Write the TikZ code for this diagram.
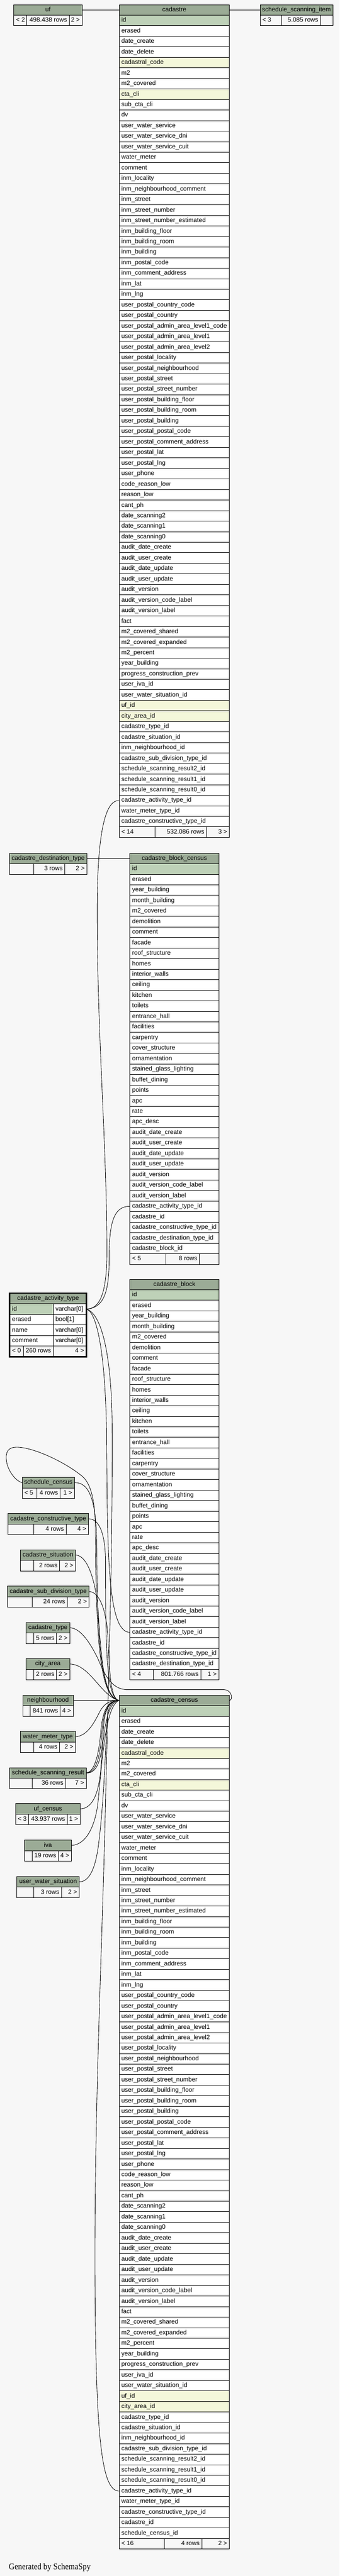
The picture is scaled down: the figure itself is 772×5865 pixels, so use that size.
\documentclass[tikz,border=0pt]{standalone}
\usepackage{fontspec}
\setmainfont{Liberation Sans}
\newfontfamily\creditfont[FakeStretch=0.9]{Liberation Serif}

\definecolor{pagebg}{HTML}{F7F7F7}
\definecolor{headgreen}{HTML}{9BAB96}
\definecolor{keygreen}{HTML}{BED1B8}
\definecolor{idxyellow}{HTML}{F4F7DA}

\tikzstyle{tblcell}=[draw, line width=1pt, fill=white, anchor=north west, minimum height=24pt, inner xsep=5pt, inner ysep=0pt, text height=10.5pt, text depth=3pt, font=\fontsize{14.2}{16}\selectfont]
\tikzstyle{tblhead}=[tblcell, fill=headgreen]
\tikzstyle{tblfoot}=[tblcell, fill=pagebg]
\tikzstyle{fk}=[line width=1pt]
\tikzstyle{focus}=[line width=3pt]

\newcommand{\setrowfill}[2]{%
  \gdef\rowfill{white}%
  \ifnum#1=1 \gdef\rowfill{keygreen}\fi
  \foreach \k in #2 {\ifnum\k=#1 \gdef\rowfill{idxyellow}\fi}}

\newcommand{\dbhead}[5]{%
  \pgfmathsetmacro\hw{#4-10}%
  \node[tblhead] (#1) at (#2,#3) {\makebox[\hw pt][c]{#5}};}

\newcommand{\dbtable}[6]{%
  \dbhead{#1}{#2}{#3}{#4}{#5}%
  \pgfmathsetmacro\tw{#4-10}%
  \foreach \c [count=\i] in #6 {%
    \setrowfill{\i}{\idxrows}%
    \node[tblcell, fill=\rowfill] (#1-\i) at (#2,{#3+24*\i}) {\makebox[\tw pt][l]{\c}};
  }}

\newcommand{\dbfoot}[9]{%
  \pgfmathsetmacro\wa{#3-#2-10}%
  \pgfmathsetmacro\wb{#4-#3-10}%
  \pgfmathsetmacro\wc{#5-#4-10}%
  \node[tblfoot] (#1-fl) at (#2,#6) {\makebox[\wa pt][l]{#7}};
  \node[tblfoot] (#1-fm) at (#3,#6) {\makebox[\wb pt][r]{#8}};
  \node[tblfoot] (#1-fr) at (#4,#6) {\makebox[\wc pt][r]{#9}};}

\catcode`\_=12

\def\cadastrecols{id, erased, date_create, date_delete, cadastral_code, m2, m2_covered,
  cta_cli, sub_cta_cli, dv, user_water_service, user_water_service_dni,
  user_water_service_cuit, water_meter, comment, inm_locality,
  inm_neighbourhood_comment, inm_street, inm_street_number,
  inm_street_number_estimated, inm_building_floor, inm_building_room,
  inm_building, inm_postal_code, inm_comment_address, inm_lat, inm_lng,
  user_postal_country_code, user_postal_country,
  user_postal_admin_area_level1_code, user_postal_admin_area_level1,
  user_postal_admin_area_level2, user_postal_locality,
  user_postal_neighbourhood, user_postal_street, user_postal_street_number,
  user_postal_building_floor, user_postal_building_room, user_postal_building,
  user_postal_postal_code, user_postal_comment_address, user_postal_lat,
  user_postal_lng, user_phone, code_reason_low, reason_low, cant_ph,
  date_scanning2, date_scanning1, date_scanning0, audit_date_create,
  audit_user_create, audit_date_update, audit_user_update, audit_version,
  audit_version_code_label, audit_version_label, fact, m2_covered_shared,
  m2_covered_expanded, m2_percent, year_building, progress_construction_prev,
  user_iva_id, user_water_situation_id, uf_id, city_area_id, cadastre_type_id,
  cadastre_situation_id, inm_neighbourhood_id, cadastre_sub_division_type_id,
  schedule_scanning_result2_id, schedule_scanning_result1_id,
  schedule_scanning_result0_id, cadastre_activity_type_id,
  water_meter_type_id, cadastre_constructive_type_id}
\edef\censuscols{\cadastrecols, cadastre_id, schedule_census_id}

\def\blockcols{id, erased, year_building, month_building, m2_covered, demolition,
  comment, facade, roof_structure, homes, interior_walls, ceiling, kitchen,
  toilets, entrance_hall, facilities, carpentry, cover_structure,
  ornamentation, stained_glass_lighting, buffet_dining, points, apc, rate,
  apc_desc, audit_date_create, audit_user_create, audit_date_update,
  audit_user_update, audit_version, audit_version_code_label,
  audit_version_label, cadastre_activity_type_id, cadastre_id,
  cadastre_constructive_type_id, cadastre_destination_type_id}
\edef\blockcensuscols{\blockcols, cadastre_block_id}

\begin{document}
\begin{tikzpicture}[x=1pt, y=-1pt]
  \path[fill=pagebg, use as bounding box] (0,0) rectangle (772,5865);

  % top row
  \def\idxrows{0}
  \dbhead{uf}{31}{10}{155}{uf}
  \dbfoot{uf}{31}{60}{157}{186}{34}{< 2}{498.438 rows}{2 >}
  \dbhead{ssi}{591}{10}{165}{schedule_scanning_item}
  \dbfoot{ssi}{591}{639}{728}{756}{34}{< 3}{5.085 rows}{}

  \def\idxrows{5,8,66,67}
  \dbtable{cadastre}{270.5}{10}{250.5}{cadastre}{\cadastrecols}
  \dbfoot{cadastre}{270.5}{352}{469}{521}{1882}{< 14}{532.086 rows}{3 >}

  % block tables
  \def\idxrows{0}
  \dbhead{cdt}{21}{1942}{176}{cadastre_destination_type}
  \dbfoot{cdt}{21}{76}{147}{197}{1966}{}{3 rows}{2 >}
  \dbtable{cbc}{295}{1942}{202}{cadastre_block_census}{\blockcensuscols}
  \dbfoot{cbc}{295}{376}{453}{497}{2854}{< 5}{8 rows}{}
  \dbtable{cb}{295}{2912}{202}{cadastre_block}{\blockcols}
  \dbfoot{cb}{295}{348}{456}{497}{3800}{< 4}{801.766 rows}{1 >}

  % cadastre_activity_type
  \dbhead{cat}{22}{2944}{173.5}{cadastre_activity_type}
  \foreach \c/\ty [count=\i] in {id/varchar[0], erased/bool[1], name/varchar[0], comment/varchar[0]} {
    \setrowfill{\i}{\idxrows}
    \node[tblcell, fill=\rowfill] (cat-\i) at (22,{2944+24*\i}) {\makebox[88.6pt][l]{\c}};
    \node[tblcell] (cat-\i-t) at (120.6,{2944+24*\i}) {\makebox[64.9pt][l]{\ty}};
  }
  \dbfoot{cat}{22}{52.7}{120.6}{195.5}{3064}{< 0}{260 rows}{4 >}
  \draw[focus] (cat.north west) rectangle (cat-fr.south east);

  % left column
  \dbhead{sc}{50}{3363}{118.7}{schedule_census}
  \dbfoot{sc}{50}{83}{136.5}{168.7}{3387}{< 5}{4 rows}{1 >}
  \dbhead{cct}{17.7}{3445.5}{183}{cadastre_constructive_type}
  \dbfoot{cct}{17.7}{76.7}{150}{200.7}{3469.5}{}{4 rows}{4 >}
  \dbhead{cs}{45.7}{3528}{125.6}{cadastre_situation}
  \dbfoot{cs}{45.7}{76.7}{135.3}{171.3}{3552}{}{2 rows}{2 >}
  \dbhead{csdt}{16.3}{3611}{185.7}{cadastre_sub_division_type}
  \dbfoot{csdt}{16.3}{72.7}{152.7}{202}{3635}{}{24 rows}{2 >}
  \dbhead{ct}{59}{3693.5}{99}{cadastre_type}
  \dbfoot{ct}{59}{76.7}{128.3}{158}{3717.5}{}{5 rows}{2 >}
  \dbhead{ca}{59}{3776}{99}{city_area}
  \dbfoot{ca}{59}{76.7}{128.3}{158}{3800}{}{2 rows}{2 >}
  \dbhead{nb}{51.2}{3859}{114.8}{neighbourhood}
  \dbfoot{nb}{51.2}{68.4}{136.4}{166}{3883}{}{841 rows}{4 >}
  \dbhead{wmt}{45.3}{3941.5}{126}{water_meter_type}
  \dbfoot{wmt}{45.3}{76.3}{135}{171.3}{3965.5}{}{4 rows}{2 >}
  \dbhead{ssr}{21.7}{4024}{173.8}{schedule_scanning_result}
  \dbfoot{ssr}{21.7}{72.4}{148.7}{195.5}{4048}{}{36 rows}{7 >}
  \dbhead{ufc}{35}{4106}{147}{uf_census}
  \dbfoot{ufc}{35}{64.5}{152.6}{182}{4130}{< 3}{43.937 rows}{1 >}
  \dbhead{iva}{55}{4189}{107}{iva}
  \dbfoot{iva}{55}{72.9}{132.4}{162}{4213}{}{19 rows}{4 >}
  \dbhead{uws}{37.9}{4272}{141.8}{user_water_situation}
  \dbfoot{uws}{37.9}{76.3}{139.3}{179.7}{4296}{}{3 rows}{2 >}

  % cadastre_census
  \def\idxrows{5,8,66,67}
  \dbtable{cc}{270.5}{3859}{250.5}{cadastre_census}{\censuscols}
  \dbfoot{cc}{270.5}{373}{458.4}{521}{5779}{< 16}{4 rows}{2 >}

  \node[anchor=base west, font=\creditfont\fontsize{20}{20}\selectfont] (credit) at (16.7,5850) {Generated by SchemaSpy};

  % links
  \draw[fk] (uf.east) -- (cadastre.west);
  \draw[fk] (cadastre.east) -- (ssi.west);
  \draw[fk] (cdt.east) -- (cbc.west);

  \draw[fk] (cat-1-t.east) .. controls (225,2980) and (243,2950) .. (243,2850)
    .. controls (243,2600) and (220,2350) .. (221,2060)
    .. controls (222,1870) and (245,1822) .. (cadastre-75.west);
  \draw[fk] (cat-1-t.east) .. controls (232,2978) and (248,2950) .. (248,2870)
    .. controls (248,2790) and (256,2746) .. (cbc-33.west);
  \draw[fk] (cat-1-t.east) .. controls (215,2985) and (238,3050) .. (242,3250)
    .. controls (245,3500) and (240,3716) .. (cb-33.west);
  \draw[fk] (cat-1-t.east) .. controls (230,2990) and (254,3080) .. (255,3250)
    .. controls (256,3550) and (247,3800) .. (240,4100)
    .. controls (232,4450) and (214,4800) .. (216,5200)
    .. controls (218,5560) and (232,5671) .. (cc-75.west);

  \draw[fk] (sc.east) .. controls (205,3375) and (219,3420) .. (220,3520)
    .. controls (221,3760) and (232,3862) .. (cc.west);
  \draw[fk] (sc.west) .. controls (35,3372) and (14,3345) .. (14,3318)
    .. controls (14,3298) and (27,3294) .. (42,3295)
    .. controls (80,3297) and (150,3330) .. (188,3362)
    .. controls (208,3380) and (216,3420) .. (217,3480)
    .. controls (218,3760) and (230,3864) .. (cc.west);
  \draw[fk] (cct.east) .. controls (225,3458) and (240,3490) .. (240,3560)
    .. controls (240,3760) and (242,3866) .. (cc.west);
  \draw[fk] (cs.east) .. controls (195,3542) and (212,3580) .. (222,3650)
    .. controls (230,3780) and (236,3866) .. (cc.west);
  \draw[fk] (csdt.east) .. controls (225,3625) and (240,3660) .. (245,3720)
    .. controls (249,3800) and (250,3868) .. (cc.west);
  \draw[fk] (ct.east) .. controls (185,3707) and (207,3745) .. (222,3775)
    .. controls (237,3810) and (252,3847) .. (290,3847) -- (510,3847)
    .. controls (526,3847) and (531,3869) .. (cc.east);
  \draw[fk] (ca.east) .. controls (205,3790) and (230,3862) .. (cc.west);
  \draw[fk] (nb.east) -- (cc.west);
  \draw[fk] (wmt.east) .. controls (200,3952) and (215,3920) .. (228,3895)
    .. controls (238,3878) and (250,3871) .. (cc.west);
  \draw[fk] (ssr.east) .. controls (214,4034) and (224,4000) .. (229,3945)
    .. controls (233,3892) and (246,3871) .. (cc.west);
  \draw[fk] (ssr.east) .. controls (218,4036) and (228,4002) .. (232,3940)
    .. controls (236,3890) and (248,3872) .. (cc.west);
  \draw[fk] (ssr.east) .. controls (222,4038) and (232,4005) .. (235,3935)
    .. controls (238,3888) and (250,3873) .. (cc.west);
  \draw[fk] (ufc.east) .. controls (210,4117) and (224,4085) .. (229,4030)
    .. controls (234,3960) and (240,3875) .. (cc.west);
  \draw[fk] (iva.east) .. controls (195,4200) and (215,4160) .. (222,4110)
    .. controls (232,4020) and (238,3885) .. (cc.west);
  \draw[fk] (uws.east) .. controls (200,4284) and (215,4262) .. (223,4207)
    .. controls (235,4120) and (240,3990) .. (243,3920)
    .. controls (245,3885) and (255,3871) .. (cc.west);
\end{tikzpicture}
\end{document}
